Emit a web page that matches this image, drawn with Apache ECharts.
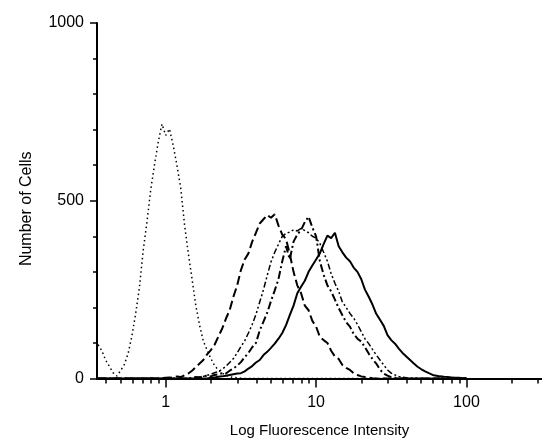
<!DOCTYPE html>
<html><head><meta charset="utf-8">
<script src="https://cdn.jsdelivr.net/npm/echarts@6/dist/echarts.min.js"></script>
<style>html,body{margin:0;padding:0;background:#fff}#c{width:542px;height:441px}</style>
</head><body><div id="c"></div>
<script>
// Fluorescence channel values (log-spaced)
const channels = [0.355,0.376,0.398,0.422,0.447,0.473,0.501,0.531,0.562,0.596,
  0.631,0.668,0.708,0.750,0.794,0.841,0.891,0.944,1.000,1.059,
  1.122,1.189,1.259,1.334,1.413,1.496,1.585,1.679,1.778,1.884,
  1.995,2.113,2.239,2.371,2.512,2.661,2.818,2.985,3.162,3.350,
  3.548,3.758,3.981,4.217,4.467,4.732,5.012,5.309,5.623,5.957,
  6.310,6.683,7.079,7.499,7.943,8.414,8.913,9.441,10.00,10.59,
  11.22,11.89,12.59,13.34,14.13,14.96,15.85,16.79,17.78,18.84,
  19.95,21.13,22.39,23.71,25.12,26.61,28.18,29.85,31.62,33.50,
  35.48,37.58,39.81,42.17,44.67,47.32,50.12,53.09,56.23,59.57,
  63.10,66.83,70.79,74.99,79.43,84.14,89.13,94.41,100.0];

// Dotted curve (control)
const controlCounts = [95,78,52,34,16,7,22,40,70,120,
  183,255,360,440,530,600,665,716,684,702,
  655,598,535,432,352,280,205,150,105,80,
  56,36,24,15,9,5,3,2,1,0,
  0,0,0,0,0,0,0,0,0,0,
  0,0,0,0,0,0,0,0,0,0,
  0,0,0,0,0,0,0,0,0,0,
  0,0,0,0,0,0,0,0,0,0,
  0,0,0,0,0,0,0,0,0,0,
  0,0,0,0,0,0,0,0,0];

// Dashed curve
const dashedCounts = [0,0,0,0,0,0,0,0,0,0,
  0,0,0,0,0,0,0,1,2,3,
  2,6,4,9,14,22,32,42,52,68,
  80,95,118,140,168,192,230,262,305,335,
  352,385,410,436,448,460,452,462,430,405,
  392,350,300,262,240,205,192,162,146,117,
  108,100,78,62,55,38,30,24,15,10,
  6,4,2,1,0,0,0,0,0,0,
  0,0,0,0,0,0,0,0,0,0,
  0,0,0,0,0,0,0,0,0];

// Dash-dot curve (heavy)
const dashDotCounts = [0,0,0,0,0,0,0,0,0,0,
  0,0,0,0,0,0,0,0,0,0,
  0,0,0,0,0,2,4,3,6,8,
  6,10,12,15,14,22,28,36,46,60,
  72,88,100,135,160,185,218,248,280,330,
  372,335,385,405,418,440,455,425,400,330,
  292,262,245,222,198,178,158,146,125,112,
  104,88,70,55,42,25,14,8,4,2,
  0,0,0,0,0,0,0,0,0,0,
  0,0,0,0,0,0,0,0,0];

// Dot-dot-dash curve (light)
const dotDashCounts = [0,0,0,0,0,0,0,0,0,0,
  0,0,0,0,0,0,0,0,0,0,
  0,0,0,0,0,0,2,4,6,9,
  12,16,20,26,34,45,56,72,90,106,
  128,152,180,215,250,290,328,355,378,400,
  408,412,418,415,422,416,410,400,395,380,
  355,330,295,268,245,215,200,183,170,152,
  132,112,98,82,66,52,38,24,15,10,
  6,4,2,0,0,0,0,0,0,0,
  0,0,0,0,0,0,0,0,0];

// Solid curve
const solidCounts = [0,0,0,0,0,0,0,0,0,0,
  0,0,0,0,0,0,0,0,0,0,
  0,0,0,0,0,0,0,0,0,0,
  2,3,5,6,8,10,12,14,15,20,
  28,35,45,52,66,75,86,98,112,128,
  150,178,205,240,258,275,300,318,335,352,
  378,402,395,410,372,355,340,330,312,300,
  280,250,230,208,182,165,148,122,108,98,
  84,72,62,52,42,33,26,20,15,10,
  8,6,5,4,3,2,2,1,0];

// Axis ticks and labels
const xMin = 0.349, xMax = 318;
const xMajorTicks = [1, 10, 100];
const xTickLabels = ['1', '10', '100'];
const xMinorTicks = [0.4,0.5,0.6,0.7,0.8,0.9,2,3,4,5,6,7,8,9,20,30,40,50,60,70,80,90,200,300];
const yLabelTicks = [0, 500, 1000];
const xTitle = 'Log Fluorescence Intensity';
const yTitle = 'Number of Cells';

const chart = echarts.init(document.getElementById('c'));
const lg = Math.log10;
const FONT = 'Liberation Sans';
function pairs(counts) { return channels.map((x, i) => [x, counts[i]]); }
const black = '#000';

const helperX = {
  type: 'value', position: 'bottom', min: lg(xMin), max: lg(xMax),
  axisLine: { show: false, onZero: false }, splitLine: { show: false }
};

chart.setOption({
  animation: false,
  backgroundColor: '#fff',
  grid: { left: 97, right: 0, top: 23, bottom: 62.5, containLabel: false, outerBoundsMode: 'none' },
  xAxis: [
    {
      type: 'log', logBase: 10, min: xMin, max: xMax, position: 'bottom',
      axisLine: { onZero: false, lineStyle: { color: black, width: 2 } },
      axisTick: { show: false }, axisLabel: { show: false }, splitLine: { show: false },
      name: xTitle, nameLocation: 'middle', nameGap: 45,
      nameTextStyle: { fontFamily: FONT, fontSize: 15, color: black }
    },
    Object.assign({}, helperX, {
      axisTick: { show: true, length: 5, customValues: xMinorTicks.map(lg), lineStyle: { color: black, width: 1.5 } },
      axisLabel: { show: false }
    }),
    Object.assign({}, helperX, {
      axisTick: { show: true, length: 9, customValues: xMajorTicks.map(lg), lineStyle: { color: black, width: 1.5 } },
      axisLabel: {
        show: true, customValues: xMajorTicks.map(lg), margin: 16,
        fontFamily: FONT, fontSize: 16, color: black,
        formatter: v => xTickLabels[xMajorTicks.findIndex(t => Math.abs(lg(t) - v) < 1e-6)]
      }
    })
  ],
  yAxis: [
    {
      type: 'value', min: 0, max: 1000, interval: 100, position: 'left',
      axisLine: { show: true, onZero: false, lineStyle: { color: black, width: 2 } },
      axisTick: { show: true, length: 4, lineStyle: { color: black, width: 1.5 } },
      axisLabel: { customValues: yLabelTicks, margin: 13, fontFamily: FONT, fontSize: 16, color: black, formatter: v => String(v) },
      splitLine: { show: false },
      name: yTitle, nameLocation: 'middle', nameGap: 62,
      nameTextStyle: { fontFamily: FONT, fontSize: 16, color: black, padding: [0, 16, 0, 0] }
    },
    {
      type: 'value', min: 0, max: 1000, position: 'left',
      axisLine: { show: false, onZero: false },
      axisTick: { show: true, length: 7, customValues: yLabelTicks, lineStyle: { color: black, width: 1.5 } },
      axisLabel: { show: false }, splitLine: { show: false }
    }
  ],
  series: [
    { type: 'line', data: pairs(controlCounts), symbol: 'none', lineStyle: { color: black, width: 1.5, type: [1.5, 3] } },
    { type: 'line', data: pairs(dashedCounts), symbol: 'none', lineStyle: { color: black, width: 2, type: [9, 4] } },
    { type: 'line', data: pairs(dotDashCounts), symbol: 'none', lineStyle: { color: black, width: 1.5, type: [2, 2.5, 2, 2.5, 6, 2.5] } },
    { type: 'line', data: pairs(dashDotCounts), symbol: 'none', lineStyle: { color: black, width: 2, type: [8, 3, 2, 3] } },
    { type: 'line', data: pairs(solidCounts), symbol: 'none', lineStyle: { color: black, width: 2 } }
  ]
});
</script>
</body></html>
